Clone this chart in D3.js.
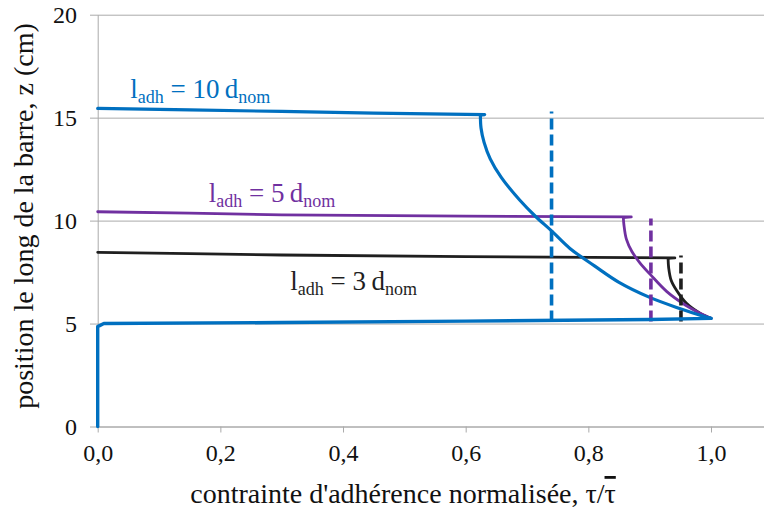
<!DOCTYPE html>
<html><head><meta charset="utf-8">
<script src="https://cdn.jsdelivr.net/npm/d3@7"></script>
<style>
body{margin:0;background:#fff}
svg{display:block}
</style>
</head><body><svg id="c" width="764" height="511"></svg>
<script>
// ---- data ----
const xTicks = [0, 0.2, 0.4, 0.6, 0.8, 1.0];
const xTickLabels = ["0,0", "0,2", "0,4", "0,6", "0,8", "1,0"];
const yTicks = [0, 5, 10, 15, 20];
const yTickLabels = ["0", "5", "10", "15", "20"];

// [tau/taubar, z (cm)] — straight plateau parts and curved decay parts
const ladh10Top = [[0,15.45],[0.15,15.38],[0.3,15.3],[0.45,15.22],[0.631,15.15],[0.624,15.12]];
const ladh10Curve = [[0.624,15.12],[0.625,14.5],[0.63,13.8],[0.64,13.0],[0.658,12.1],[0.688,11.0],[0.714,10.2],[0.74,9.5],[0.77,8.65],[0.81,7.8],[0.85,7.0],[0.90,6.27],[0.95,5.72],[0.985,5.38],[1.0,5.25]];
const ladh10Bottom = [[1.0,5.25],[0.9,5.2],[0.6,5.12],[0.3,5.05],[0.01,5.0],[0,4.85],[0,0]];
const ladh5Top = [[0,10.43],[0.15,10.36],[0.3,10.28],[0.6,10.22],[0.87,10.18],[0.857,10.15]];
const ladh5Curve = [[0.857,10.15],[0.858,9.8],[0.862,9.1],[0.871,8.5],[0.884,7.95],[0.902,7.35],[0.928,6.55],[0.958,5.9],[0.982,5.5],[1.0,5.25]];
const ladh3Top = [[0,8.46],[0.15,8.4],[0.3,8.33],[0.6,8.25],[0.941,8.19],[0.930,8.17]];
const ladh3Curve = [[0.930,8.17],[0.931,7.7],[0.935,7.1],[0.944,6.6],[0.960,5.98],[0.982,5.5],[1.0,5.25]];

const meanTau = [0.74, 0.902, 0.951];
const meanTop = [15.3, 10.1, 8.3];
const meanBottom = [5.1, 5.1, 5.1];

const labelNames = ["10", "5", "3"];
const labelTau = [0.053, 0.181, 0.314];
const labelZ = [15.95, 10.9, 6.65];

const colors = ["#0070C0", "#7030A0", "#1f1f1f"];
const FONT = "Times";

// ---- chart ----
const svg = d3.select("#c");
const x = d3.scaleLinear().domain([0, 1.0864]).range([97.7, 764]);
const y = d3.scaleLinear().domain([0, 20]).range([426.5, 14.7]);
const gridColor = "#aaaaaa";

function styleText(sel, size){
  sel.style("font-family", FONT).style("font-size", size + "px");
}

// horizontal gridlines + y labels
const gy = svg.append("g").attr("transform", "translate(90,0)")
  .call(d3.axisLeft(y).tickValues(yTicks).tickFormat((d,i)=>yTickLabels[i])
    .tickSize(-(764-90)).tickPadding(13));
gy.attr("font-family", null).attr("font-size", null);
gy.select(".domain").remove();
gy.selectAll("line").attr("stroke", gridColor);
gy.selectAll("text").attr("fill", "#111").call(styleText, 24);

// y axis line
const gyl = svg.append("g").attr("transform", `translate(${x(0)},0)`)
  .call(d3.axisLeft(y).tickValues([]).tickSizeOuter(0));
gyl.select(".domain").attr("stroke", gridColor);

// x axis
const gx = svg.append("g").attr("transform", `translate(0,${y(0)})`)
  .call(d3.axisBottom(x).tickValues(xTicks).tickFormat((d,i)=>xTickLabels[i])
    .tickSize(6).tickSizeOuter(0).tickPadding(11));
gx.attr("font-family", null).attr("font-size", null);
gx.select(".domain").attr("stroke", gridColor);
gx.selectAll("line").attr("stroke", gridColor);
gx.selectAll("text").attr("fill", "#111").call(styleText, 24);

// curves
const lineStraight = d3.line().x(d=>x(d[0])).y(d=>y(d[1])).curve(d3.curveLinear);
const lineSmooth = d3.line().x(d=>x(d[0])).y(d=>y(d[1])).curve(d3.curveCatmullRom.alpha(0.5));
function draw(data, gen, color, w){
  svg.append("path").datum(data).attr("d", gen)
    .attr("fill","none").attr("stroke", color)
    .attr("stroke-width", w).attr("stroke-linejoin","round").attr("stroke-linecap","round");
}
draw(ladh3Top, lineStraight, colors[2], 2.8);
draw(ladh3Curve, lineSmooth, colors[2], 2.8);
draw(ladh5Top, lineStraight, colors[1], 2.8);
draw(ladh5Curve, lineSmooth, colors[1], 2.8);
draw(ladh10Top, lineStraight, colors[0], 3.2);
draw(ladh10Curve, lineSmooth, colors[0], 3.2);

// dashed mean lines
meanTau.forEach((t,i)=>{
  svg.append("line").attr("x1", x(t)).attr("x2", x(t))
    .attr("y1", y(meanBottom[i])).attr("y2", y(meanTop[i]))
    .attr("stroke", colors[i]).attr("stroke-width", 3.6)
    .attr("stroke-dasharray", "11,5");
});
draw(ladh10Bottom, lineStraight, colors[0], 3.4);

// annotations
labelNames.forEach((n,i)=>{
  const t = svg.append("text").attr("x", x(labelTau[i])).attr("y", y(labelZ[i]))
    .attr("fill", colors[i]).call(styleText, 27);
  t.append("tspan").text("l");
  t.append("tspan").text("adh").style("font-size", "18px").attr("dy", 5);
  t.append("tspan").text(" = " + n + "\u2009d").attr("dy", -5);
  t.append("tspan").text("nom").style("font-size", "18px").attr("dy", 5);
});

// axis titles
const xt = svg.append("text").attr("x", 403).attr("y", 503).attr("text-anchor","middle")
  .attr("fill","#111").call(styleText, 28);
xt.append("tspan").text("contrainte d'adhérence normalisée, τ/");
xt.append("tspan").text("τ").style("text-decoration","overline");

svg.append("text").attr("transform","translate(33,216) rotate(-90)")
  .attr("text-anchor","middle").attr("fill","#111").call(styleText, 28)
  .text("position le long de la barre, z (cm)");
</script>
</body></html>
